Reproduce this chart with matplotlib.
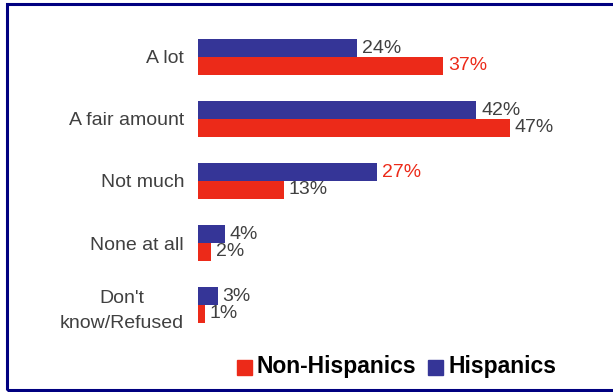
import numpy as np
import matplotlib.pyplot as plt
from matplotlib.patches import Rectangle

categories = ['A lot', 'A fair amount', 'Not much', 'None at all', "Don't\nknow/Refused"]
hispanics = [24, 42, 27, 4, 3]
non_hispanics = [37, 47, 13, 2, 1]
# labels drawn in red to highlight the bigger gap
hisp_red = [False, False, True, False, False]
non_red = [True, False, False, False, False]

blue = '#353597'
red = '#EC2A19'
grey = '#404040'

plt.rcParams['font.family'] = ['Liberation Sans', 'DejaVu Sans']

W, H = 613, 392
fig = plt.figure(figsize=(W / 100, H / 100), dpi=100)

# frame around the chart (right side runs off the picture)
fig.patches.append(Rectangle((7 / W, 2.5 / H), 620 / W, 385.5 / H, transform=fig.transFigure,
                             fill=False, edgecolor='#000080', linewidth=2.2))

ax = fig.add_axes([198 / W, 1 - 336 / H, 400 / W, 310 / H])
y = np.arange(len(categories))
h = 0.29
ax.barh(y - h / 2, hispanics, height=h, color=blue)
ax.barh(y + h / 2, non_hispanics, height=h, color=red)
ax.set_xlim(0, 400 / 6.63)
ax.set_ylim(4.5, -0.5)

for i in range(len(categories)):
    ax.text(hispanics[i] + 0.7, y[i] - h / 2, f'{hispanics[i]}%', va='center', ha='left',
            fontsize=14, color=red if hisp_red[i] else grey)
    ax.text(non_hispanics[i] + 0.7, y[i] + h / 2, f'{non_hispanics[i]}%', va='center', ha='left',
            fontsize=14, color=red if non_red[i] else grey)

ax.set_yticks(y)
ax.set_yticklabels(categories, fontsize=14, color=grey, linespacing=1.65,
                   multialignment='center')
ax.tick_params(axis='y', length=0, pad=10)
ax.set_xticks([])
for s in ax.spines.values():
    s.set_visible(False)

# legend
fig.patches.append(Rectangle((237 / W, 1 - 375 / H), 15 / W, 15 / H, transform=fig.transFigure,
                             color=red))
fig.text(257 / W, 1 - 367 / H, 'Non-Hispanics', fontsize=16.5, fontweight='bold', va='center')
fig.patches.append(Rectangle((428 / W, 1 - 375 / H), 15 / W, 15 / H, transform=fig.transFigure,
                             color=blue))
fig.text(448 / W, 1 - 367 / H, 'Hispanics', fontsize=16.5, fontweight='bold', va='center')

fig.savefig('out.png', dpi=100)
